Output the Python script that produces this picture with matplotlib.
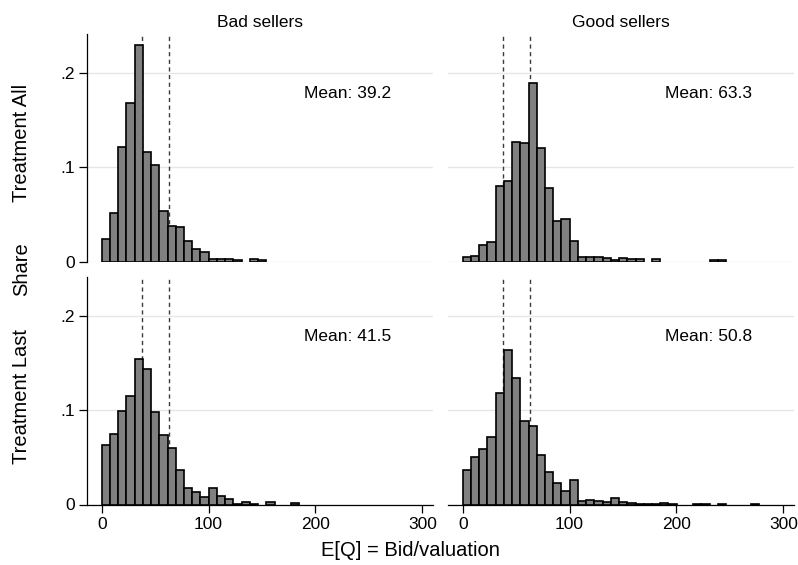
import matplotlib
matplotlib.use("Agg")
import matplotlib.pyplot as plt
import numpy as np

plt.rcParams['font.family'] = ['Liberation Sans', 'DejaVu Sans']

# ヒストグラムの階級幅（Stata の既定ビンを画像から読み取り）
bin_width = 7.7

col_titles = ["Bad sellers", "Good sellers"]
row_titles = ["Treatment All", "Treatment Last"]
mean_labels = [["Mean: 39.2", "Mean: 63.3"],
               ["Mean: 41.5", "Mean: 50.8"]]

# 各パネルの度数割合（左から順に階級ごと）
share_bad_all = [0.0242, 0.0512, 0.121, 0.168, 0.2295, 0.1155, 0.1023, 0.054,
                 0.0377, 0.0362, 0.0217, 0.0128, 0.0096, 0.003, 0.003, 0.003,
                 0.0014, 0, 0.0025, 0.0014]
share_good_all = [0.0046, 0.006, 0.017, 0.0206, 0.08, 0.0853, 0.1265, 0.1254,
                  0.1893, 0.12, 0.0774, 0.043, 0.0451, 0.0217, 0.005, 0.005,
                  0.005, 0.0035, 0.0017, 0.0035, 0.0025, 0.0025, 0, 0.0025,
                  0, 0, 0, 0, 0, 0, 0.0015, 0.0015]
share_bad_last = [0.0633, 0.0744, 0.0989, 0.1146, 0.1537, 0.1431, 0.0975, 0.074,
                  0.0598, 0.0363, 0.018, 0.0128, 0.0075, 0.0178, 0.0093, 0.0055,
                  0.0008, 0.0025, 0.001, 0, 0.0025, 0, 0, 0.002]
share_good_last = [0.0362, 0.0504, 0.0586, 0.0718, 0.1176, 0.1634, 0.1343, 0.0885,
                   0.0831, 0.0522, 0.0348, 0.0231, 0.0139, 0.0263, 0.0038, 0.0048,
                   0.0038, 0.0027, 0.0071, 0.003, 0.0018, 0.0007, 0.001, 0.001,
                   0.0018, 0.001, 0, 0, 0.001, 0.001, 0, 0.001, 0, 0, 0, 0.001]

shares = [[share_bad_all, share_good_all],
          [share_bad_last, share_good_last]]

ref_lines = [37.5, 62.5]
x_ticks = [0, 100, 200, 300]
y_ticks = [0, 0.1, 0.2]
y_ticklabels = ["0", ".1", ".2"]

W, H = 798, 565
fig = plt.figure(figsize=(W / 100, H / 100), dpi=100)

# パネル位置（ピクセル）
lefts = [87, 448]
tops = [34, 277]
pw, ph = 346, 227.5

for r in range(2):
    for c in range(2):
        ax = fig.add_axes([lefts[c] / W, 1 - (tops[r] + ph) / H, pw / W, ph / H])
        vals = np.array(shares[r][c])
        edges = np.arange(len(vals)) * bin_width
        keep = vals > 0
        ax.bar(edges[keep], vals[keep], width=bin_width, align='edge',
               color='#808080', edgecolor='black', linewidth=1.2, zorder=3)
        for x in ref_lines:
            ax.axvline(x, color='#3a3a3a', linestyle=(0, (3, 2.5)), linewidth=1.0, zorder=2)
        for y in y_ticks:
            ax.axhline(y, color='#e6e6e6', linewidth=1.0, zorder=1)
        ax.text(189, 0.178, mean_labels[r][c], fontsize=12.5, ha='left', va='center')

        ax.set_xlim(-13.8, 310)
        ax.set_ylim(0, 0.241)
        for s in ['top', 'right']:
            ax.spines[s].set_visible(False)
        ax.spines['left'].set_visible(c == 0)
        ax.spines['bottom'].set_visible(r == 1)
        ax.spines['left'].set_linewidth(0.9)
        ax.spines['bottom'].set_linewidth(0.9)

        if c == 0:
            ax.set_yticks(y_ticks)
            ax.set_yticklabels(y_ticklabels)
            ax.tick_params(axis='y', length=6, width=0.9, labelsize=12.5, pad=3)
        else:
            ax.set_yticks([])
        if r == 1:
            ax.set_xticks(x_ticks)
            ax.tick_params(axis='x', length=6, width=0.9, labelsize=12.5, pad=3)
        else:
            ax.set_xticks([])
        ax.set_facecolor('white')

        if r == 0:
            ax.set_title(col_titles[c], fontsize=12.5, pad=5)

# 行ラベルと共通の軸ラベル
fig.text(22 / W, 1 - 142.5 / H, row_titles[0], rotation=90, fontsize=14.5,
         ha='center', va='center')
fig.text(22 / W, 1 - 396.7 / H, row_titles[1], rotation=90, fontsize=14.5,
         ha='center', va='center')
fig.text(22 / W, 1 - 269 / H, "Share", rotation=90, fontsize=14.5,
         ha='center', va='center')
fig.text(410 / W, 1 - 551 / H, "E[Q] = Bid/valuation", fontsize=14.5,
         ha='center', va='center')

fig.savefig("out.png", dpi=100, facecolor='white')
